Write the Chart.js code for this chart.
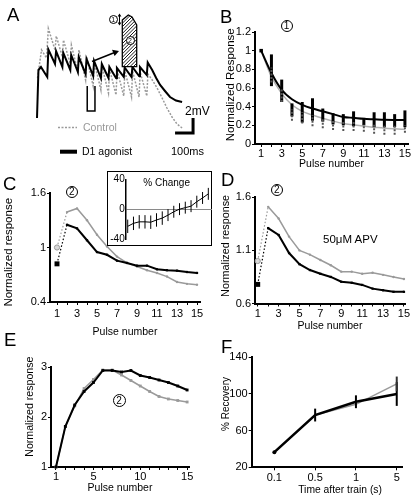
<!DOCTYPE html>
<html>
<head>
<meta charset="utf-8">
<script src="https://cdn.jsdelivr.net/npm/chart.js@4.4.1/dist/chart.umd.min.js"></script>
<style>
  body { margin: 0; background: #fff; font-family: "Liberation Sans", Arial, Helvetica, sans-serif; }
  #fig { position: relative; width: 416px; height: 499px; overflow: hidden; background: #fff; }
  canvas { position: absolute; }
  .letter { position: absolute; font-size: 18.5px; line-height: 1; color: #000; }
  .txt { position: absolute; white-space: nowrap; line-height: 1; color: #000; }
  .num { position: absolute; box-sizing: border-box; width: 12px; height: 12px; border: 1px solid #000;
         border-radius: 50%; font-size: 10px; line-height: 10px; text-align: center; background: #fff; }
  .num.small { width: 9px; height: 9px; font-size: 7px; line-height: 7px; }
  #insetBox { position: absolute; left: 107px; top: 171px; width: 105px; height: 75px;
              box-sizing: border-box; border: 1px solid #000; background: #fff; }
</style>
</head>
<body>
<div id="fig">
  <canvas id="chartA" width="210" height="160" style="left:0;top:0"></canvas>
  <canvas id="chartB" width="201" height="160" style="left:215px;top:18px"></canvas>
  <canvas id="chartC" width="210" height="162" style="left:0;top:180px"></canvas>
  <div id="insetBox"></div>
  <canvas id="chartCi" width="105" height="75" style="left:107px;top:171px"></canvas>
  <canvas id="chartD" width="201" height="153" style="left:215px;top:183px"></canvas>
  <canvas id="chartE" width="210" height="145" style="left:0;top:352px"></canvas>
  <canvas id="chartF" width="201" height="155" style="left:215px;top:343px"></canvas>

  <div class="letter" style="left:7px;top:5.6px">A</div>
  <div class="letter" style="left:220px;top:7.6px">B</div>
  <div class="letter" style="left:3px;top:174.6px">C</div>
  <div class="letter" style="left:221px;top:170.6px">D</div>
  <div class="letter" style="left:4px;top:330.6px">E</div>
  <div class="letter" style="left:221px;top:337.6px">F</div>

  <div class="num small" style="left:108.8px;top:14.8px">1</div>
  <div class="num small" style="left:125.5px;top:36.2px">2</div>
  <div class="num" style="left:280.5px;top:20px">1</div>
  <div class="num" style="left:65.7px;top:185.7px">2</div>
  <div class="num" style="left:270.7px;top:184px">2</div>
  <div class="num" style="left:112.5px;top:394.3px;width:13px;height:13px;line-height:11px">2</div>

  <div class="txt" style="left:185px;top:104.5px;font-size:12px">2mV</div>
  <div class="txt" style="left:171px;top:145.5px;font-size:11px">100ms</div>
  <div class="txt" style="left:83px;top:122.2px;font-size:10.5px;color:#999">Control</div>
  <div class="txt" style="left:82px;top:146.4px;font-size:10.5px">D1 agonist</div>
  <div class="txt" style="left:323px;top:234.2px;font-size:11.5px">50&mu;M APV</div>
  <div class="txt" style="left:143.3px;top:177.5px;font-size:10px">% Change</div>
</div>

<script>
// ---- data ----
const pulses = [1, 2, 3, 4, 5, 6, 7, 8, 9, 10, 11, 12, 13, 14, 15];
const oddPulseLabels = ['1', '3', '5', '7', '9', '11', '13', '15'];
const ePulseLabels = ['1', '5', '10', '15'];

// A: membrane potential traces (ms, mV)
const traceD1Time = [0, 8, 22, 57, 63, 100, 106, 141, 146, 185, 190, 227, 232, 270, 275, 312, 317, 355, 360, 397, 402, 439, 444, 482, 487, 525, 530, 567, 572, 610, 615, 640, 662, 684, 711, 739, 772, 806];
const traceD1mV = [1.6, 8.0, 8.4, 7.07, 10.73, 8.8, 10.53, 8.4, 10.27, 8.0, 10.0, 7.73, 9.73, 7.47, 9.47, 7.2, 9.2, 6.93, 8.8, 6.93, 8.4, 6.93, 8.27, 7.07, 8.33, 7.07, 8.4, 7.2, 8.4, 7.33, 9.0, 8.0, 6.93, 6.0, 5.2, 4.4, 3.93, 3.73];
const traceCtrlTime = [3, 25, 53, 63, 100, 107, 141, 147, 185, 191, 227, 233, 270, 276, 312, 318, 355, 361, 397, 403, 439, 445, 482, 488, 525, 531, 567, 573, 610, 616, 640, 667, 695, 722, 750, 778, 806];
const traceCtrlmV = [6.93, 10.67, 9.6, 13.53, 10.67, 12.53, 9.73, 12.0, 8.8, 11.33, 7.73, 10.67, 6.67, 9.73, 5.87, 9.07, 5.33, 8.53, 4.93, 8.13, 4.67, 8.0, 4.53, 7.87, 4.4, 7.87, 4.4, 7.73, 4.53, 7.47, 6.67, 5.6, 4.27, 2.93, 1.73, 0.8, 0.27];
const stepTime = [279, 279, 322, 322];
const stepmV = [5.87, 2.53, 2.53, 5.87];
const scaleBarMs = 100;
const scaleBarMv = 2;

// B: normalized response (1)
const bFitD1 = [1.0, 0.76, 0.58, 0.48, 0.42, 0.38, 0.35, 0.32, 0.29, 0.28, 0.27, 0.265, 0.26, 0.258, 0.257];
const bFitCtrl = [1.0, 0.72, 0.54, 0.42, 0.35, 0.31, 0.275, 0.245, 0.22, 0.205, 0.19, 0.18, 0.17, 0.163, 0.157];
const bMeanD1 = [null, 0.79, 0.57, 0.365, 0.34, 0.37, 0.31, 0.27, 0.26, 0.27, 0.24, 0.26, 0.26, 0.25, 0.27];
const bErrD1 = [0, 0.17, 0.12, 0.07, 0.11, 0.12, 0.07, 0.06, 0.06, 0.08, 0.04, 0.08, 0.08, 0.07, 0.09];
const bMeanCtrl = [null, 0.74, 0.52, 0.31, 0.28, 0.25, 0.22, 0.2, 0.19, 0.19, 0.17, 0.16, 0.15, 0.15, 0.16];
const bErrCtrl = [0, 0.08, 0.07, 0.06, 0.06, 0.06, 0.05, 0.05, 0.05, 0.05, 0.04, 0.05, 0.05, 0.05, 0.04];
const bYTicks = [0, 0.2, 0.4, 0.6, 0.8, 1, 1.2];

// C: normalized response (2) and % change inset
const cD1 = [0.82, 1.25, 1.21, 1.08, 0.95, 0.92, 0.855, 0.83, 0.80, 0.80, 0.76, 0.75, 0.745, 0.73, 0.72];
const cCtrl = [1.0, 1.39, 1.43, 1.30, 1.14, 1.01, 0.90, 0.83, 0.79, 0.75, 0.72, 0.68, 0.62, 0.60, 0.59];
const cYTicks = [0.4, 1, 1.6];
const cChange = [-23, -19, -17, -17, -17.5, -14.5, -12, -8, -3.5, 0, 2, 4, 10, 15, 20.5];
const cChangeErr = [9, 9, 9, 9, 9, 9, 9, 8, 8, 8, 8, 8, 8, 8, 8];
const cChangeTicks = [-40, 0, 40];

// D: 50 uM APV
const dD1 = [0.78, 1.31, 1.245, 1.075, 0.97, 0.915, 0.88, 0.85, 0.805, 0.795, 0.775, 0.74, 0.725, 0.71, 0.71];
const dCtrl = [1.0, 1.51, 1.40, 1.23, 1.10, 1.06, 1.01, 0.96, 0.90, 0.90, 0.88, 0.89, 0.87, 0.85, 0.83];
const dYTicks = [0.6, 1.1, 1.6];

// E
const eD1 = [1.0, 1.81, 2.24, 2.51, 2.69, 2.93, 2.93, 2.9, 2.93, 2.83, 2.79, 2.74, 2.69, 2.62, 2.54];
const eCtrl = [1.0, 1.81, 2.22, 2.57, 2.75, 2.94, 2.94, 2.84, 2.73, 2.62, 2.51, 2.41, 2.36, 2.33, 2.30];
const eYTicks = [1, 2, 3];

// F: recovery
const fTimeLabels = ['0.1', '0.5', '1', '5'];
const fD1 = [36.5, 77, 91.5, 100];
const fD1Err = [0, 7, 7, 13];
const fCtrl = [36, 77, 88.7, 111];
const fCtrlErr = [0, 0, 0, 8];
const fYTicks = [20, 60, 100, 140];

// ---- helpers ----
Chart.defaults.font.family = '"Liberation Sans", Arial, Helvetica, sans-serif';
Chart.defaults.color = '#000';

const GRAY = '#9a9a9a';

function pts(xs, ys) {
    return xs.map((x, i) => ({ x: x, y: ys[i] }));
}

// vertical error bars, positioned with the chart's own scales
const errorBars = {
    id: 'errorBars',
    afterDatasetsDraw(chart) {
        const ctx = chart.ctx;
        const yScale = chart.scales.y;
        chart.data.datasets.forEach((ds, i) => {
            if (!ds.errors) return;
            const meta = chart.getDatasetMeta(i);
            ctx.save();
            ctx.strokeStyle = ds.errorColor || '#000';
            ctx.lineWidth = ds.errorWidth || 1;
            ctx.setLineDash(ds.errorDash || []);
            meta.data.forEach((el, j) => {
                const v = ds.data[j].y;
                const e = ds.errors[j];
                if (v == null || !e) return;
                ctx.beginPath();
                ctx.moveTo(el.x, yScale.getPixelForValue(v - e));
                ctx.lineTo(el.x, yScale.getPixelForValue(v + e));
                ctx.stroke();
            });
            ctx.restore();
        });
    }
};

function xAxis(o) {
    return {
        type: 'linear',
        min: o.min,
        max: o.max,
        afterFit: s => { s.height = o.height; },
        afterBuildTicks: s => { s.ticks = o.ticks.map(v => ({ value: v })); },
        ticks: { autoSkip: false, maxRotation: 0, minRotation: 0, padding: o.tickPad, font: { size: 11 }, callback: o.label },
        grid: { drawOnChartArea: false, drawTicks: true, tickLength: 3, color: '#000' },
        border: { color: '#000', width: 2 },
        title: { display: true, text: o.title, font: { size: o.titleSize || 10.5 }, padding: { top: 0, bottom: o.titlePad } }
    };
}

function yAxis(o) {
    return {
        type: 'linear',
        min: o.min,
        max: o.max,
        afterFit: s => { s.width = o.width; },
        afterBuildTicks: s => { s.ticks = o.ticks.map(v => ({ value: v })); },
        ticks: { autoSkip: false, padding: o.tickPad, font: { size: 11 }, callback: v => String(v) },
        grid: { drawOnChartArea: false, drawTicks: true, tickLength: 3, color: '#000' },
        border: { color: '#000', width: 2 },
        title: { display: true, text: o.title, font: { size: o.titleSize || 11 }, padding: { top: o.titlePad, bottom: 0 } }
    };
}

function baseOptions(padding, scales) {
    return {
        responsive: false,
        animation: false,
        devicePixelRatio: 1,
        layout: { padding: padding },
        plugins: { legend: { display: false }, tooltip: { enabled: false } },
        scales: scales
    };
}

const pulseLabel = v => oddPulseLabels.includes(String(v)) ? String(v) : '';

// ---- A: traces ----
const schematic = {
    id: 'schematic',
    afterDraw(chart) {
        const ctx = chart.ctx;
        const xs = chart.scales.x, ys = chart.scales.y;
        ctx.save();

        // hatched response shape
        const poly = [[122.3, 20], [128.3, 15], [132, 17], [136.7, 25], [136.7, 66.7], [122.3, 66.7]];
        const tracePoly = () => {
            ctx.beginPath();
            poly.forEach(([x, y], i) => i ? ctx.lineTo(x, y) : ctx.moveTo(x, y));
            ctx.closePath();
        };
        tracePoly();
        ctx.fillStyle = '#fff';
        ctx.fill();
        ctx.save();
        ctx.clip();
        ctx.strokeStyle = '#000';
        ctx.lineWidth = 0.9;
        for (let k = -60; k < 20; k += 3.4) {
            ctx.beginPath();
            ctx.moveTo(122 + k, 70);
            ctx.lineTo(122 + k + 55, 15);
            ctx.stroke();
        }
        ctx.restore();
        tracePoly();
        ctx.lineWidth = 1.3;
        ctx.strokeStyle = '#000';
        ctx.stroke();

        // arrow pointing to the shape
        ctx.lineWidth = 1.5;
        ctx.beginPath();
        ctx.moveTo(92, 61.5);
        ctx.lineTo(114, 52.8);
        ctx.stroke();
        ctx.beginPath();
        ctx.moveTo(119, 51);
        ctx.lineTo(112, 49.8);
        ctx.lineTo(114.6, 56);
        ctx.closePath();
        ctx.fillStyle = '#000';
        ctx.fill();

        // small double arrow next to (1)
        ctx.lineWidth = 1;
        ctx.beginPath();
        ctx.moveTo(119.5, 15);
        ctx.lineTo(119.5, 24);
        ctx.stroke();
        ctx.beginPath();
        ctx.moveTo(119.5, 13.5); ctx.lineTo(117.6, 16.5); ctx.lineTo(121.4, 16.5); ctx.closePath();
        ctx.moveTo(119.5, 25.5); ctx.lineTo(117.6, 22.5); ctx.lineTo(121.4, 22.5); ctx.closePath();
        ctx.fill();

        // scale bar: 100 ms x 2 mV
        const cornerX = xs.getPixelForValue(867);
        const leftX = xs.getPixelForValue(867 - scaleBarMs);
        const baseY = ys.getPixelForValue(-0.4);
        const topY = ys.getPixelForValue(-0.4 + scaleBarMv);
        ctx.lineWidth = 3;
        ctx.lineCap = 'butt';
        ctx.beginPath();
        ctx.moveTo(leftX, baseY);
        ctx.lineTo(cornerX + 1.5, baseY);
        ctx.moveTo(cornerX, baseY + 1.5);
        ctx.lineTo(cornerX, topY);
        ctx.stroke();

        // legend samples
        ctx.lineWidth = 1.5;
        ctx.strokeStyle = GRAY;
        ctx.setLineDash([2, 1.5]);
        ctx.beginPath();
        ctx.moveTo(58, 127.5);
        ctx.lineTo(77, 127.5);
        ctx.stroke();
        ctx.setLineDash([]);
        ctx.lineWidth = 4;
        ctx.strokeStyle = '#000';
        ctx.beginPath();
        ctx.moveTo(60, 151.7);
        ctx.lineTo(77, 151.7);
        ctx.stroke();
        ctx.restore();
    }
};

new Chart(document.getElementById('chartA'), {
    type: 'line',
    data: {
        datasets: [
            { data: pts(traceD1Time, traceD1mV), borderColor: '#000', borderWidth: 2, pointRadius: 0, tension: 0 },
            { data: pts(stepTime, stepmV), borderColor: '#000', borderWidth: 1.5, pointRadius: 0, tension: 0 },
            { data: pts(traceCtrlTime, traceCtrlmV), borderColor: GRAY, borderWidth: 1.5, borderDash: [2, 1.5], pointRadius: 0, tension: 0 }
        ]
    },
    options: baseOptions(0, {
        x: { type: 'linear', display: false, min: -205.6, max: 961.1 },
        y: { type: 'linear', display: false, min: -4.0, max: 17.333 }
    }),
    plugins: [schematic]
});

// ---- B ----
new Chart(document.getElementById('chartB'), {
    type: 'line',
    data: {
        datasets: [
            { data: pts(pulses, bMeanD1), showLine: false, pointRadius: 0, errors: bErrD1, errorColor: '#000', errorWidth: 3 },
            { data: pts(pulses, bFitD1), borderColor: '#000', borderWidth: 2, cubicInterpolationMode: 'monotone',
              pointStyle: 'rect', pointRadius: ctx => ctx.dataIndex === 0 ? 2.5 : 0, pointBackgroundColor: '#000', pointBorderWidth: 0, clip: false },
            { data: pts(pulses, bMeanCtrl), showLine: false, pointRadius: 0, errors: bErrCtrl, errorColor: '#555', errorWidth: 2, errorDash: [2, 1.5] },
            { data: pts(pulses, bFitCtrl), borderColor: '#b0b0b0', borderWidth: 1.5, cubicInterpolationMode: 'monotone', pointRadius: 0, clip: false }
        ]
    },
    options: baseOptions({ top: 14, right: 8, bottom: 0, left: 0 }, {
        x: xAxis({ min: 0.4, max: 15.3, height: 34, ticks: pulses, label: pulseLabel, tickPad: 0, title: 'Pulse number', titlePad: 8 }),
        y: yAxis({ min: 0, max: 1.2, width: 40, ticks: bYTicks, tickPad: 1, title: '  Normalized Response', titleSize: 11.5, titlePad: 8.5 })
    }),
    plugins: [errorBars]
});

// ---- C ----
function pairDatasets(d1, ctrl, firstRadius) {
    return [
        { data: pts(pulses, d1), borderColor: '#000', borderWidth: 2, tension: 0, clip: false,
          pointStyle: 'rect', pointBackgroundColor: '#000', pointBorderWidth: 0,
          pointRadius: ctx => ctx.dataIndex === 0 ? firstRadius : 1.6,
          segment: { borderDash: ctx => ctx.p0DataIndex === 0 ? [1.5, 2] : undefined,
                     borderWidth: ctx => ctx.p0DataIndex === 0 ? 1.2 : undefined } },
        { data: pts(pulses, ctrl), borderColor: GRAY, borderWidth: 1.5, tension: 0, clip: false,
          pointStyle: 'circle', pointBackgroundColor: ctx => ctx.dataIndex === 0 ? '#d8d8d8' : GRAY,
          pointBorderColor: GRAY, pointBorderWidth: ctx => ctx.dataIndex === 0 ? 1 : 0,
          pointRadius: ctx => ctx.dataIndex === 0 ? 2.6 : 1.2,
          segment: { borderDash: ctx => ctx.p0DataIndex === 0 ? [1.5, 2] : undefined,
                     borderWidth: ctx => ctx.p0DataIndex === 0 ? 1.2 : undefined } }
    ];
}

new Chart(document.getElementById('chartC'), {
    type: 'line',
    data: { datasets: pairDatasets(cD1, cCtrl, 3.5) },
    options: baseOptions({ top: 13, right: 10, bottom: 0, left: 0 }, {
        x: xAxis({ min: 0.3, max: 15.3, height: 40, ticks: pulses, label: pulseLabel, tickPad: 2, title: 'Pulse number', titlePad: 3.1 }),
        y: yAxis({ min: 0.4, max: 1.6, width: 50, ticks: cYTicks, tickPad: 1, title: 'Normalized response   ', titleSize: 11.5, titlePad: 1.6 })
    })
});

// C inset: % change
new Chart(document.getElementById('chartCi'), {
    type: 'line',
    data: {
        datasets: [
            { data: pts(pulses, cChange), borderColor: '#000', borderWidth: 1, tension: 0, pointRadius: 0, clip: false,
              errors: cChangeErr, errorColor: '#000', errorWidth: 1 }
        ]
    },
    options: baseOptions({ top: 8.3, right: 0, bottom: 6, left: 0 }, {
        x: { type: 'linear', display: false, min: 0.65, max: 15.64 },
        y: {
            type: 'linear', min: -40, max: 40,
            afterFit: s => { s.width = 18.7; },
            afterBuildTicks: s => { s.ticks = cChangeTicks.map(v => ({ value: v })); },
            ticks: { padding: 1, font: { size: 10 }, callback: v => String(v) },
            grid: { drawTicks: false, drawOnChartArea: true, lineWidth: 1,
                    color: ctx => ctx.tick && ctx.tick.value === 0 ? '#8a8a8a' : 'rgba(0,0,0,0)' },
            border: { color: '#000', width: 1.5 }
        }
    }),
    plugins: [errorBars]
});

// ---- D ----
new Chart(document.getElementById('chartD'), {
    type: 'line',
    data: { datasets: pairDatasets(dD1, dCtrl, 3.5) },
    options: baseOptions({ top: 14.3, right: 11, bottom: 0, left: 0 }, {
        x: xAxis({ min: 0.74, max: 15.1, height: 32.5, ticks: pulses, label: pulseLabel, tickPad: 1, title: 'Pulse number', titlePad: 3.1 }),
        y: yAxis({ min: 0.6, max: 1.6, width: 40, ticks: dYTicks, tickPad: 1, title: '   Normalized response', titleSize: 10.8, titlePad: 4.8 })
    })
});

// ---- E ----
new Chart(document.getElementById('chartE'), {
    type: 'line',
    data: {
        datasets: [
            { data: pts(pulses, eD1), borderColor: '#000', borderWidth: 2, tension: 0, clip: false,
              pointStyle: 'rect', pointRadius: 2, pointBackgroundColor: '#000', pointBorderWidth: 0 },
            { data: pts(pulses, eCtrl), borderColor: GRAY, borderWidth: 1.5, tension: 0, clip: false,
              pointStyle: 'rect', pointRadius: 2, pointBackgroundColor: GRAY, pointBorderWidth: 0 }
        ]
    },
    options: baseOptions({ top: 15, right: 21, bottom: 0, left: 0 }, {
        x: xAxis({ min: 0.47, max: 15.2, height: 30, ticks: pulses,
                   label: v => ePulseLabels.includes(String(v)) ? String(v) : '', tickPad: 0, title: 'Pulse number', titlePad: 2.4 }),
        y: yAxis({ min: 1, max: 3, width: 51, ticks: eYTicks, tickPad: 1, title: '       Normalized response', titleSize: 10.6, titlePad: 24.1 })
    })
});

// ---- F ----
const fIdx = fTimeLabels.map((t, i) => i);
new Chart(document.getElementById('chartF'), {
    type: 'line',
    data: {
        datasets: [
            { data: pts(fIdx, fD1), borderColor: '#000', borderWidth: 2.5, tension: 0, clip: false,
              pointRadius: ctx => ctx.dataIndex === 0 ? 2 : 0, pointBackgroundColor: '#000', pointBorderWidth: 0,
              errors: fD1Err, errorColor: '#000', errorWidth: 2 },
            { data: pts(fIdx, fCtrl), borderColor: GRAY, borderWidth: 1.5, tension: 0, clip: false, pointRadius: 0,
              errors: fCtrlErr, errorColor: '#333', errorWidth: 2 }
        ]
    },
    options: baseOptions({ top: 14.3, right: 13.3, bottom: 0, left: 0 }, {
        x: xAxis({ min: -0.555, max: 3.146, height: 30.7, ticks: fIdx, label: v => fTimeLabels[v], tickPad: 1,
                   title: '         Time after train (s)', titleSize: 10.3, titlePad: 2.1 }),
        y: yAxis({ min: 20, max: 140, width: 36.7, ticks: fYTicks, tickPad: 1, title: '      % Recovery', titleSize: 10, titlePad: 4.8 })
    }),
    plugins: [errorBars]
});
</script>
</body>
</html>
